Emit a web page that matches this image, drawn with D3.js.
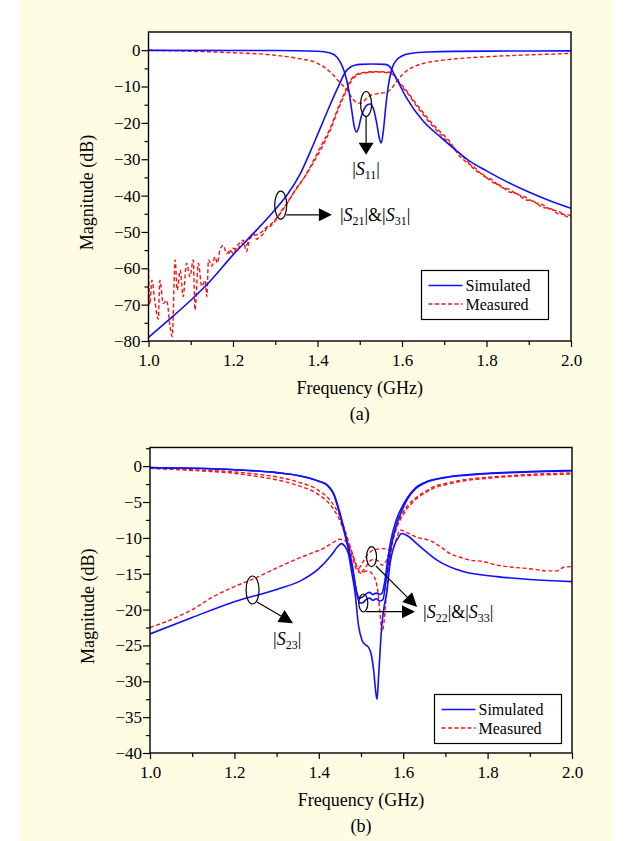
<!DOCTYPE html>
<html><head><meta charset="utf-8">
<script src="https://cdn.jsdelivr.net/npm/d3@7"></script>
<style>
body{margin:0;background:#ffffff;}
svg{display:block;}
text{font-family:"Liberation Serif","Times New Roman",Times,serif;fill:#000;}
</style>
</head><body>
<svg id="c" width="632" height="841" font-family="Liberation Serif, serif"></svg>
<script>
// ---------------- DATA : panel (a) ----------------
const xTicksMajor = [1.0, 1.2, 1.4, 1.6, 1.8, 2.0];
const xTicksMinor = [1.1, 1.3, 1.5, 1.7, 1.9];
const yTicksMajorA = [0, -10, -20, -30, -40, -50, -60, -70, -80];
const yTicksMinorA = [-5, -15, -25, -35, -45, -55, -65, -75];
const yTicksMajorB = [0, -5, -10, -15, -20, -25, -30, -35, -40];
const yTicksMinorB = [2.5, -2.5, -7.5, -12.5, -17.5, -22.5, -27.5, -32.5, -37.5];
const legendLabels = ["Simulated", "Measured"];

const freqA_s11Sim = [1.0,1.3,1.4,1.43,1.445,1.455,1.465,1.474,1.481,1.487,1.492,1.497,1.503,1.51,1.518,1.525,1.532,1.54,1.547,1.551,1.556,1.562,1.568,1.575,1.585,1.6,1.62,1.66,1.8,2.0];
const magA_s11Sim  = [-0.05,-0.1,-0.3,-0.8,-1.8,-3.5,-6.5,-11,-16.5,-21,-22.5,-21.5,-18.5,-16.3,-15,-14.8,-16,-20,-24.5,-25.5,-22,-15,-9.5,-5.5,-3,-1.6,-0.9,-0.5,-0.25,-0.2];

const freqA_s21Sim = [1.0,1.05,1.1,1.15,1.2,1.25,1.3,1.33,1.36,1.39,1.41,1.43,1.45,1.465,1.48,1.49,1.5,1.53,1.56,1.57,1.58,1.59,1.61,1.65,1.69,1.72,1.76,1.8,1.85,1.9,1.95,2.0];
const magA_s21Sim  = [-79,-74,-68.8,-63,-56.3,-50.2,-43.8,-39.5,-33.8,-26,-20.5,-15,-9.8,-6.2,-4.5,-4.1,-3.9,-3.8,-3.9,-4.4,-6.3,-8.5,-13,-19.5,-23.8,-26.8,-30.5,-33.2,-36.3,-39,-41.4,-43.5];

const freqA_s11Meas = [1.0,1.1,1.2,1.3,1.35,1.4,1.43,1.45,1.47,1.48,1.49,1.502,1.515,1.526,1.545,1.565,1.575,1.585,1.6,1.613,1.63,1.652,1.68,1.716,1.8,1.9,2.0];
const magA_s11Meas  = [0,-0.3,-0.7,-1.4,-2.2,-3.6,-6,-8.5,-11,-12.8,-14.2,-14.6,-13.4,-12.4,-11.9,-11.5,-10.6,-9,-6.8,-5.5,-4.4,-3.6,-3,-2.5,-1.8,-1.3,-0.9];

const freqA_s21Meas = [1.000,1.003,1.008,1.015,1.023,1.027,1.035,1.043,1.051,1.056,1.063,1.068,1.075,1.082,1.090,1.098,1.106,1.110,1.118,1.126,1.134,1.138,1.142,1.150,1.157,1.163,1.169,1.177,1.185,1.193,1.201,1.209,1.216,1.224,1.232,1.240,1.248,1.256,1.264,1.272,1.280,1.288,1.295,1.303,1.311,1.327,1.343,1.360,1.374,1.390,1.410,1.430,1.450,1.465,1.480,1.495,1.510,1.540,1.565,1.578,1.590,1.613,1.632,1.652,1.672,1.692,1.712,1.732,1.752,1.772,1.792,1.812,1.832,1.852,1.872,1.892,1.912,1.932,1.952,1.972,1.990,2.000];
const magA_s21Meas  = [-60,-70,-63.3,-69,-74,-63.3,-69.7,-68.8,-76,-78.8,-57.7,-66,-60.5,-67.8,-58.6,-62.3,-57.7,-71.5,-58.6,-65,-63.3,-67.8,-57.7,-59.4,-56.8,-58.5,-55,-53.7,-56,-55,-56,-54,-53,-52.3,-55.4,-51.5,-50.4,-52,-51.3,-50.5,-49,-48.5,-47.6,-46.5,-44.8,-42.2,-39.3,-36.5,-34,-30.5,-26,-21.5,-15.5,-11.5,-8,-6.5,-6.1,-5.9,-6,-6.5,-8.3,-11.5,-14.5,-17.4,-20.3,-22.6,-25,-28.5,-30.8,-32.3,-34.5,-35.6,-37.5,-38.2,-39.6,-40.4,-41.8,-42.5,-43.8,-44.4,-45.8,-46];

const freqA_s31Meas = [1.190,1.200,1.210,1.220,1.230,1.240,1.250,1.260,1.270,1.280,1.290,1.300,1.310,1.330,1.350,1.370,1.390,1.410,1.430,1.450,1.465,1.480,1.495,1.510,1.540,1.565,1.578,1.590,1.613,1.632,1.652,1.672,1.692,1.712,1.732,1.752,1.772,1.792,1.812,1.832,1.852,1.872,1.892,1.912,1.932,1.952,1.972,1.990,2.000];
const magA_s31Meas  = [-56,-54.5,-55,-53,-53.8,-51.8,-51,-50.6,-49.8,-48.6,-47.8,-46.6,-45.2,-41.8,-38,-34.8,-31,-26.8,-22,-16,-12,-8.5,-6.8,-6.3,-6.0,-6.2,-6.7,-8.6,-11.8,-15,-18,-20.8,-23.3,-25.6,-27.9,-30.2,-32.9,-34.2,-36.2,-37.2,-38.9,-39.5,-41.1,-41.6,-43.2,-43.6,-45.1,-45.2,-45.6];

// ---------------- DATA : panel (b) ----------------
const freqB_s22Sim = [1.0,1.1,1.2,1.3,1.35,1.4,1.42,1.435,1.45,1.466,1.48,1.49,1.497,1.505,1.512,1.52,1.528,1.536,1.544,1.552,1.558,1.565,1.572,1.585,1.6,1.61,1.63,1.65,1.7,1.75,1.8,1.9,2.0];
const magB_s22Sim  = [-0.2,-0.3,-0.5,-0.9,-1.3,-2.1,-2.6,-3.8,-6.5,-10.3,-14,-17.8,-19.1,-19.0,-18.6,-18.4,-18.7,-18.5,-18.8,-18.6,-16.5,-13.5,-11,-8,-5.8,-4.6,-3.1,-2.4,-1.6,-1.25,-1.05,-0.8,-0.65];
const freqB_s33Sim = [1.0,1.1,1.2,1.3,1.35,1.4,1.42,1.435,1.45,1.466,1.48,1.49,1.497,1.505,1.512,1.52,1.528,1.536,1.544,1.55,1.556,1.563,1.57,1.583,1.598,1.61,1.63,1.65,1.7,1.75,1.8,1.9,2.0];
const magB_s33Sim  = [-0.2,-0.3,-0.5,-0.9,-1.3,-2.1,-2.7,-3.9,-6.8,-10.6,-14.4,-17.6,-18.4,-18.2,-17.8,-17.6,-17.9,-17.7,-17.9,-17.7,-16.2,-13.2,-10.6,-7.6,-5.6,-4.4,-3.0,-2.3,-1.55,-1.2,-1.0,-0.75,-0.6];

const freqB_s23Sim = [1.0,1.1,1.2,1.3,1.36,1.4,1.43,1.445,1.454,1.462,1.47,1.478,1.486,1.494,1.502,1.51,1.517,1.524,1.53,1.535,1.538,1.542,1.549,1.555,1.561,1.569,1.578,1.588,1.596,1.61,1.632,1.68,1.742,1.822,1.9,2.0];
const magB_s23Sim  = [-23.4,-21.1,-18.9,-17.2,-15.9,-14.3,-12.4,-11.2,-10.8,-11.2,-12.2,-14.8,-17.7,-22.2,-24.2,-24.9,-25.2,-26.2,-28.5,-31.5,-32.5,-29,-22.4,-19.5,-17.7,-13.5,-11.2,-10,-9.4,-9.7,-10.8,-13.1,-14.7,-15.4,-15.8,-16.1];

const freqB_s23Meas = [1.0,1.05,1.1,1.15,1.2,1.25,1.3,1.35,1.38,1.41,1.43,1.45,1.465,1.475,1.485,1.494,1.502,1.515,1.529,1.553,1.573,1.585,1.592,1.61,1.632,1.664,1.69,1.711,1.735,1.758,1.79,1.822,1.86,1.9,1.94,1.965,1.98,2.0];
const magB_s23Meas  = [-22.5,-21.4,-20.0,-18.2,-16.8,-15.6,-14.2,-12.9,-12.2,-11.5,-10.8,-10.2,-10.5,-11.5,-13.2,-14.3,-13.6,-12.4,-11.7,-11.5,-11.7,-10,-8.9,-9.3,-9.9,-10.4,-11.3,-12.2,-12.7,-13.1,-13.3,-13.8,-14.1,-14.3,-14.6,-14.6,-14.1,-14];

const freqB_s22Meas = [1.0,1.1,1.2,1.25,1.3,1.35,1.4,1.43,1.45,1.465,1.48,1.49,1.5,1.51,1.52,1.53,1.54,1.55,1.56,1.57,1.58,1.59,1.6,1.608,1.62,1.632,1.65,1.671,1.7,1.75,1.8,1.85,1.92,2.0];
const magB_s22Meas  = [-0.3,-0.5,-0.8,-1.1,-1.5,-2.2,-3.4,-5.0,-7.0,-9.5,-12.3,-14,-14.8,-14.2,-13.3,-13,-13.2,-13.8,-13.2,-11.3,-9.2,-7.6,-6.4,-5.7,-4.9,-4.3,-3.6,-2.9,-2.4,-1.85,-1.55,-1.35,-1.1,-0.95];
const freqB_s33Meas = [1.0,1.1,1.2,1.25,1.3,1.35,1.4,1.43,1.45,1.465,1.48,1.49,1.5,1.515,1.53,1.54,1.545,1.55,1.555,1.56,1.566,1.572,1.58,1.59,1.6,1.608,1.62,1.632,1.65,1.671,1.7,1.75,1.8,1.85,1.92,2.0];
const magB_s33Meas  = [-0.3,-0.6,-1.0,-1.4,-1.9,-2.7,-4.0,-5.6,-7.6,-10,-12.8,-14.5,-14.9,-14.6,-15.3,-17.5,-20.5,-23.1,-21.5,-18,-14.5,-11.5,-9.5,-7.8,-6.8,-6.0,-5.2,-4.5,-3.8,-3.1,-2.6,-2.0,-1.7,-1.45,-1.25,-1.1];

// ---------------- DRAWING ----------------
const BLUE = "#1010ff", RED = "#ff1010";
const FONT = "'Liberation Serif', 'Times New Roman', Times, serif";
const svg = d3.select("#c");
svg.append("rect").attr("x", 20).attr("y", 0).attr("width", 592).attr("height", 841).attr("fill", "#fefde3");

function zip(f, m) { return f.map((d, i) => [d, m[i]]); }

function sLabel(g, x, y, parts, anchor) {
  const t = g.append("text").attr("x", x).attr("y", y).attr("font-size", 18)
    .attr("font-family", FONT).attr("text-anchor", anchor || "start");
  let shifted = false;
  parts.forEach(p => {
    const ts = t.append("tspan").text(p[0]);
    if (p[1] === "i") ts.attr("font-style", "italic");
    if (p[1] === "sub") { ts.attr("font-size", 12).attr("dy", 4); shifted = true; }
    else if (shifted) { ts.attr("dy", -4); shifted = false; }
  });
}

function arrow(g, x1, y1, x2, y2, len, hw) {
  const dx = x2 - x1, dy = y2 - y1, L = Math.hypot(dx, dy);
  const ux = dx / L, uy = dy / L;
  const bx = x2 - ux * len, by = y2 - uy * len;
  g.append("line").attr("x1", x1).attr("y1", y1).attr("x2", bx).attr("y2", by)
    .attr("stroke", "#000").attr("stroke-width", 1.2);
  g.append("polygon").attr("points",
    [[x2, y2], [bx - uy * hw, by + ux * hw], [bx + uy * hw, by - ux * hw]].map(p => p.join(",")).join(" "))
    .attr("fill", "#000");
}

let clipId = 0;
function panel(cfg) {
  const x = d3.scaleLinear().domain([1, 2]).range([cfg.left, cfg.right]);
  const y = d3.scaleLinear().domain(cfg.yDomain).range([cfg.bottom, cfg.top]);
  const g = svg.append("g");
  const w = cfg.right - cfg.left, h = cfg.bottom - cfg.top;
  g.append("rect").attr("x", cfg.left).attr("y", cfg.top).attr("width", w).attr("height", h).attr("fill", "#fff");
  const id = "clip" + (clipId++);
  g.append("clipPath").attr("id", id).append("rect").attr("x", cfg.left).attr("y", cfg.top).attr("width", w).attr("height", h);
  const lines = g.append("g").attr("clip-path", `url(#${id})`);
  const line = d3.line().x(d => x(d[0])).y(d => y(d[1])).curve(d3.curveMonotoneX);
  cfg.series.forEach(s => {
    const p = lines.append("path").attr("d", line(s.data)).attr("fill", "none");
    if (s.type === "sim") p.attr("stroke", BLUE).attr("stroke-width", 1.6);
    else p.attr("stroke", RED).attr("stroke-width", 1.4).attr("stroke-dasharray", "4,2.5");
  });
  // axes
  const xa = g.append("g").attr("transform", `translate(0,${cfg.bottom})`)
    .call(d3.axisBottom(x).tickValues(xTicksMajor).tickSize(6).tickPadding(7).tickFormat(d3.format(".1f")));
  const xm = g.append("g").attr("transform", `translate(0,${cfg.bottom})`)
    .call(d3.axisBottom(x).tickValues(xTicksMinor).tickSize(4).tickFormat(""));
  const ya = g.append("g").attr("transform", `translate(${cfg.left},0)`)
    .call(d3.axisLeft(y).tickValues(cfg.yMajor).tickSize(7).tickPadding(1).tickFormat(d3.format("d")));
  const ym = g.append("g").attr("transform", `translate(${cfg.left},0)`)
    .call(d3.axisLeft(y).tickValues(cfg.yMinor).tickSize(4).tickFormat(""));
  [xa, xm, ya, ym].forEach(a => {
    a.attr("font-family", FONT);
    a.select(".domain").remove();
    a.selectAll("line").attr("stroke", "#000").attr("stroke-width", 1.2);
    a.selectAll("text").attr("font-size", 17).attr("font-family", FONT).attr("fill", "#000");
  });
  g.append("rect").attr("x", cfg.left).attr("y", cfg.top).attr("width", w).attr("height", h)
    .attr("fill", "none").attr("stroke", "#000").attr("stroke-width", 1.4);
  // titles
  g.append("text").attr("x", (cfg.left + cfg.right) / 2).attr("y", cfg.bottom + 53).attr("text-anchor", "middle")
    .attr("font-family", FONT).attr("font-size", 18).text("Frequency (GHz)");
  g.append("text").attr("x", (cfg.left + cfg.right) / 2).attr("y", cfg.bottom + 79).attr("text-anchor", "middle")
    .attr("font-family", FONT).attr("font-size", 18).text(cfg.label);
  g.append("text").attr("transform", `translate(${cfg.left - 56},${(cfg.top + cfg.bottom) / 2 + 6}) rotate(-90)`)
    .attr("text-anchor", "middle").attr("font-family", FONT).attr("font-size", 18).text("Magnitude (dB)");
  // legend
  const L = cfg.legend;
  g.append("rect").attr("x", L.x).attr("y", L.y).attr("width", L.w).attr("height", 49)
    .attr("fill", "#fff").attr("stroke", "#000").attr("stroke-width", 1.2);
  legendLabels.forEach((lab, i) => {
    const yy = L.y + 15 + i * 18.5;
    const ln = g.append("line").attr("x1", L.x + 7).attr("x2", L.x + 41).attr("y1", yy).attr("y2", yy);
    if (i === 0) ln.attr("stroke", BLUE).attr("stroke-width", 1.6);
    else ln.attr("stroke", RED).attr("stroke-width", 1.4).attr("stroke-dasharray", "4,2.5");
    g.append("text").attr("x", L.x + 44).attr("y", yy + 5.5).attr("font-family", FONT)
      .attr("font-size", 16).text(lab);
  });
  return { g, x, y };
}

// Panel (a)
const A = panel({
  left: 148.5, right: 571, top: 32, bottom: 341, yDomain: [-80, 5],
  yMajor: yTicksMajorA, yMinor: yTicksMinorA, label: "(a)",
  legend: { x: 421.5, y: 270.5, w: 127 },
  series: [
    { type: "meas", data: zip(freqA_s11Meas, magA_s11Meas) },
    { type: "meas", data: zip(freqA_s21Meas, magA_s21Meas) },
    { type: "meas", data: zip(freqA_s31Meas, magA_s31Meas) },
    { type: "sim", data: zip(freqA_s11Sim, magA_s11Sim) },
    { type: "sim", data: zip(freqA_s21Sim, magA_s21Sim) }
  ]
});
{
  const { g, x, y } = A;
  g.append("ellipse").attr("cx", x(1.515)).attr("cy", y(-14.8)).attr("rx", 5.5).attr("ry", 12.5)
    .attr("stroke", "#000").attr("stroke-width", 1.2).attr("fill", "none");
  arrow(g, x(1.515), y(-14.8) + 12.5, x(1.515), y(-28.8), 12, 7.5);
  sLabel(g, x(1.515), y(-34.3), [["|", ""], ["S", "i"], ["11", "sub"], ["|", ""]], "middle");
  g.append("ellipse").attr("cx", x(1.313)).attr("cy", y(-42.6)).attr("rx", 6).attr("ry", 14)
    .attr("stroke", "#000").attr("stroke-width", 1.2).attr("fill", "none");
  arrow(g, x(1.326), y(-45.3), x(1.434), y(-45.3), 13, 6.5);
  sLabel(g, x(1.453), y(-47.0), [["|", ""], ["S", "i"], ["21", "sub"], ["|&|", ""], ["S", "i"], ["31", "sub"], ["|", ""]]);
}

// Panel (b)
const B = panel({
  left: 150, right: 572, top: 447.5, bottom: 753, yDomain: [-40, 2.6],
  yMajor: yTicksMajorB, yMinor: yTicksMinorB, label: "(b)",
  legend: { x: 434.5, y: 694.5, w: 127 },
  series: [
    { type: "meas", data: zip(freqB_s23Meas, magB_s23Meas) },
    { type: "meas", data: zip(freqB_s22Meas, magB_s22Meas) },
    { type: "meas", data: zip(freqB_s33Meas, magB_s33Meas) },
    { type: "sim", data: zip(freqB_s23Sim, magB_s23Sim) },
    { type: "sim", data: zip(freqB_s22Sim, magB_s22Sim) },
    { type: "sim", data: zip(freqB_s33Sim, magB_s33Sim) }
  ]
});
{
  const { g, x, y } = B;
  const el = (f, m, rx, ry) => g.append("ellipse").attr("cx", x(f)).attr("cy", y(m)).attr("rx", rx).attr("ry", ry)
    .attr("stroke", "#000").attr("stroke-width", 1.2).attr("fill", "none");
  el(1.243, -17.27, 6.5, 14);
  arrow(g, x(1.2536), y(-18.94), x(1.339), y(-21.9), 14, 7);
  sLabel(g, x(1.325), y(-24.9), [["|", ""], ["S", "i"], ["23", "sub"], ["|", ""]], "middle");
  el(1.525, -12.63, 5, 10);
  arrow(g, x(1.5355), y(-13.92), x(1.633), y(-19.64), 14, 7);
  el(1.5055, -19.08, 4.5, 9);
  arrow(g, x(1.512), y(-20.3), x(1.628), y(-20.3), 13, 6.5);
  sLabel(g, x(1.647), y(-21.2), [["|", ""], ["S", "i"], ["22", "sub"], ["|&|", ""], ["S", "i"], ["33", "sub"], ["|", ""]]);
}
</script>
</body></html>
